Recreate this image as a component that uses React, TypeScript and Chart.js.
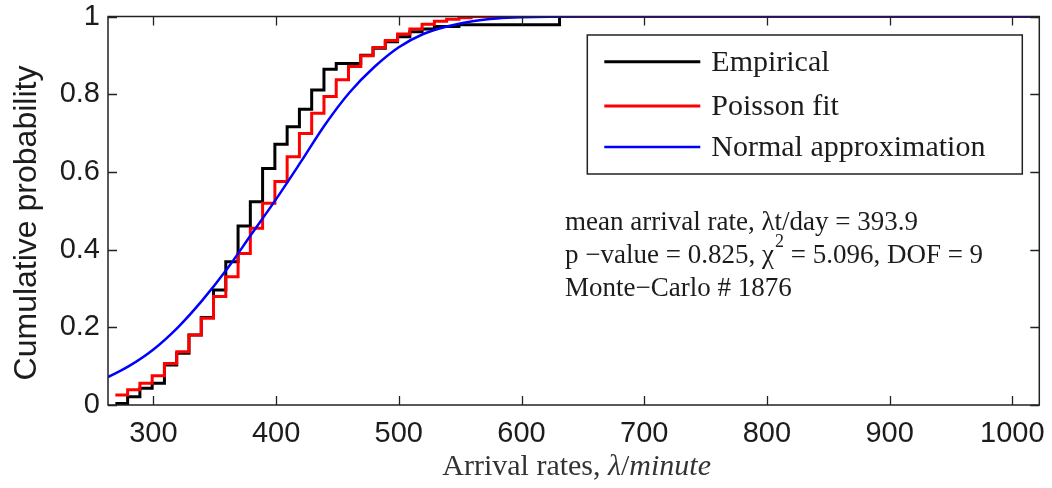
import React, { useEffect, useRef } from 'react';
import { Chart, registerables } from 'chart.js';

Chart.register(...registerables);

// ---- axis ranges & ticks ----
const X_MIN = 263;
const X_MAX = 1022;
const X_TICKS = [300, 400, 500, 600, 700, 800, 900, 1000];
const Y_TICKS = [0, 0.2, 0.4, 0.6, 0.8, 1];

// ---- Empirical CDF (stairs) ----
const EMP_X = [269, 279, 289, 299, 309, 319, 329, 339, 349, 359, 369, 379, 389, 399, 409, 419, 429, 439, 449, 469, 479, 489, 499, 509, 519, 529, 549, 631, 1022];
const EMP_Y = [0.004, 0.021, 0.043, 0.056, 0.103, 0.133, 0.18, 0.225, 0.296, 0.369, 0.461, 0.523, 0.609, 0.671, 0.716, 0.761, 0.811, 0.864, 0.879, 0.9, 0.918, 0.935, 0.948, 0.961, 0.968, 0.974, 0.979, 1.0, 1.0];

// ---- Poisson fit (stairs) ----
const POI_X = [269, 279, 289, 299, 309, 319, 329, 339, 349, 359, 369, 379, 389, 399, 409, 419, 429, 439, 449, 459, 469, 479, 489, 499, 509, 519, 529, 539, 549, 559, 1022];
const POI_Y = [0.026, 0.039, 0.056, 0.075, 0.107, 0.137, 0.18, 0.223, 0.279, 0.33, 0.39, 0.455, 0.519, 0.575, 0.639, 0.699, 0.751, 0.794, 0.837, 0.871, 0.899, 0.92, 0.938, 0.955, 0.968, 0.98, 0.988, 0.993, 0.997, 1.0, 1.0];

// ---- Normal approximation (smooth) ----
const NORM_X = [263, 280, 300, 320, 340, 360, 380, 400, 420, 440, 460, 480, 500, 520, 540, 560, 580, 600, 650, 1022];
const NORM_Y = [0.072, 0.1, 0.143, 0.2, 0.27, 0.35, 0.44, 0.53, 0.625, 0.722, 0.805, 0.87, 0.921, 0.955, 0.975, 0.988, 0.995, 0.998, 1.0, 1.0];

const SERIES_LABELS = ['Empirical', 'Poisson fit', 'Normal approximation'];
const SERIES_COLORS = ['#000000', '#ff0000', '#0000ff'];

const NOTE_LINE_1 = 'mean arrival rate, \u03BBt/day = 393.9';
const NOTE_LINE_2A = 'p \u2212value = 0.825, ';
const NOTE_CHI = '\u03C7';
const NOTE_SUP = '2';
const NOTE_LINE_2B = ' = 5.096, DOF = 9';
const NOTE_LINE_3 = 'Monte\u2212Carlo # 1876';

const Y_TITLE = 'Cumulative probability';
const X_TITLE_A = 'Arrival rates, ';
const X_TITLE_LAMBDA = '\u03BB';
const X_TITLE_SLASH = '/';
const X_TITLE_UNIT = 'minute';

const SANS = '"Liberation Sans", Arial, sans-serif';
const SERIF = '"Liberation Serif", "Times New Roman", serif';
const TEXT = '#1c1c1c';

const toPts = (xs: number[], ys: number[]) => xs.map((x, i) => ({ x, y: ys[i] }));

export default function App() {
  const ref = useRef<HTMLCanvasElement>(null);

  useEffect(() => {
    if (!ref.current) return;

    const overlay = {
      id: 'matlabOverlay',
      afterDatasetsDraw(chart: any) {
        const { ctx, chartArea: a, scales } = chart;
        const xs = scales.x;
        const ys = scales.y;
        ctx.save();

        // frame
        ctx.strokeStyle = '#222';
        ctx.lineWidth = 1.5;
        ctx.strokeRect(a.left, a.top, a.right - a.left, a.bottom - a.top);

        // inward ticks
        ctx.beginPath();
        const tl = 9;
        X_TICKS.forEach((v) => {
          const px = Math.round(xs.getPixelForValue(v)) + 0.5;
          ctx.moveTo(px, a.bottom);
          ctx.lineTo(px, a.bottom - tl);
          ctx.moveTo(px, a.top);
          ctx.lineTo(px, a.top + tl);
        });
        Y_TICKS.forEach((v) => {
          const py = Math.round(ys.getPixelForValue(v)) + 0.5;
          ctx.moveTo(a.left, py);
          ctx.lineTo(a.left + tl, py);
          ctx.moveTo(a.right, py);
          ctx.lineTo(a.right - tl, py);
        });
        ctx.lineWidth = 1.3;
        ctx.stroke();

        // legend box
        const bx = a.right - 452;
        const by = a.top + 18.5;
        const bw = 435;
        const bh = 139;
        ctx.fillStyle = '#ffffff';
        ctx.fillRect(bx, by, bw, bh);
        ctx.strokeStyle = '#222';
        ctx.lineWidth = 1.5;
        ctx.strokeRect(bx, by, bw, bh);
        const rowY = [by + 26.7, by + 71, by + 112];
        ctx.font = `30px ${SERIF}`;
        ctx.textBaseline = 'middle';
        ctx.textAlign = 'left';
        SERIES_LABELS.forEach((lab, i) => {
          ctx.beginPath();
          ctx.strokeStyle = SERIES_COLORS[i];
          ctx.lineWidth = i === 2 ? 2.5 : 3;
          ctx.moveTo(bx + 17, rowY[i]);
          ctx.lineTo(bx + 113, rowY[i]);
          ctx.stroke();
          ctx.fillStyle = TEXT;
          ctx.fillText(lab, bx + 124, rowY[i] + 1);
        });

        // annotation text
        const tx = a.left + 457;
        ctx.font = `27px ${SERIF}`;
        ctx.fillStyle = TEXT;
        ctx.fillText(NOTE_LINE_1, tx, a.top + 206);
        let cx = tx;
        const y2 = a.top + 239;
        ctx.fillText(NOTE_LINE_2A, cx, y2);
        cx += ctx.measureText(NOTE_LINE_2A).width;
        ctx.fillText(NOTE_CHI, cx, y2);
        cx += ctx.measureText(NOTE_CHI).width;
        ctx.font = `18px ${SERIF}`;
        ctx.fillText(NOTE_SUP, cx + 1, y2 - 13);
        cx += ctx.measureText(NOTE_SUP).width + 1;
        ctx.font = `27px ${SERIF}`;
        ctx.fillText(NOTE_LINE_2B, cx, y2);
        ctx.fillText(NOTE_LINE_3, tx, a.top + 272);

        // x-axis title (mixed fonts)
        const regular = `30px ${SERIF}`;
        const italic = `italic 30px ${SERIF}`;
        const parts: [string, string][] = [
          [X_TITLE_A, regular],
          [X_TITLE_LAMBDA, italic],
          [X_TITLE_SLASH, regular],
          [X_TITLE_UNIT, italic],
        ];
        let total = 0;
        parts.forEach(([t, f]) => {
          ctx.font = f;
          total += ctx.measureText(t).width;
        });
        let px = (a.left + a.right) / 2 + 3 - total / 2;
        ctx.fillStyle = '#333';
        parts.forEach(([t, f]) => {
          ctx.font = f;
          ctx.fillText(t, px, 467);
          px += ctx.measureText(t).width;
        });

        // y-axis title
        ctx.save();
        ctx.translate(27.5, 223);
        ctx.rotate(-Math.PI / 2);
        ctx.font = `32px ${SANS}`;
        ctx.textAlign = 'center';
        ctx.fillStyle = TEXT;
        ctx.fillText(Y_TITLE, 0, 0);
        ctx.restore();

        ctx.restore();
      },
    };

    const chart = new Chart(ref.current, {
      type: 'line',
      data: {
        datasets: [
          {
            label: SERIES_LABELS[2],
            data: toPts(NORM_X, NORM_Y),
            borderColor: SERIES_COLORS[2],
            borderWidth: 2.5,
            pointRadius: 0,
            cubicInterpolationMode: 'monotone',
            fill: false,
            order: 0,
          },
          {
            label: SERIES_LABELS[1],
            data: toPts(POI_X, POI_Y),
            borderColor: SERIES_COLORS[1],
            borderWidth: 3,
            pointRadius: 0,
            stepped: 'before',
            fill: false,
            order: 1,
          },
          {
            label: SERIES_LABELS[0],
            data: toPts(EMP_X, EMP_Y),
            borderColor: SERIES_COLORS[0],
            borderWidth: 3,
            pointRadius: 0,
            stepped: 'before',
            fill: false,
            order: 2,
          },
        ],
      },
      options: {
        animation: false,
        responsive: false,
        layout: { padding: { top: 16.5, right: 12.7, left: 0, bottom: 0 } },
        plugins: {
          legend: { display: false },
          tooltip: { enabled: false },
          title: { display: false },
        },
        events: [],
        scales: {
          x: {
            type: 'linear',
            min: X_MIN,
            max: X_MAX,
            afterBuildTicks: (s: any) => {
              s.ticks = X_TICKS.map((v) => ({ value: v }));
            },
            afterFit: (s: any) => {
              s.height = 83;
              s.paddingLeft = 0;
              s.paddingRight = 0;
            },
            ticks: {
              font: { family: SANS, size: 29, lineHeight: 1 },
              color: TEXT,
              padding: 14,
              maxRotation: 0,
              autoSkip: false,
              callback: (v: any) => String(v),
            },
            grid: { display: false, drawTicks: false },
            border: { display: false },
          },
          y: {
            type: 'linear',
            min: 0,
            max: 1,
            afterBuildTicks: (s: any) => {
              s.ticks = Y_TICKS.map((v) => ({ value: v }));
            },
            afterFit: (s: any) => {
              s.width = 108;
              s.paddingTop = 0;
              s.paddingBottom = 0;
            },
            ticks: {
              font: { family: SANS, size: 29, lineHeight: 1 },
              color: TEXT,
              padding: 8,
              callback: (v: any) => String(v),
            },
            grid: { display: false, drawTicks: false },
            border: { display: false },
          },
        },
      },
      plugins: [overlay],
    } as any);

    return () => chart.destroy();
  }, []);

  return (
    <div style={{ position: 'fixed', left: 0, top: 0, width: 1052, height: 488, background: '#fff' }}>
      <canvas ref={ref} width={1052} height={488} />
    </div>
  );
}
